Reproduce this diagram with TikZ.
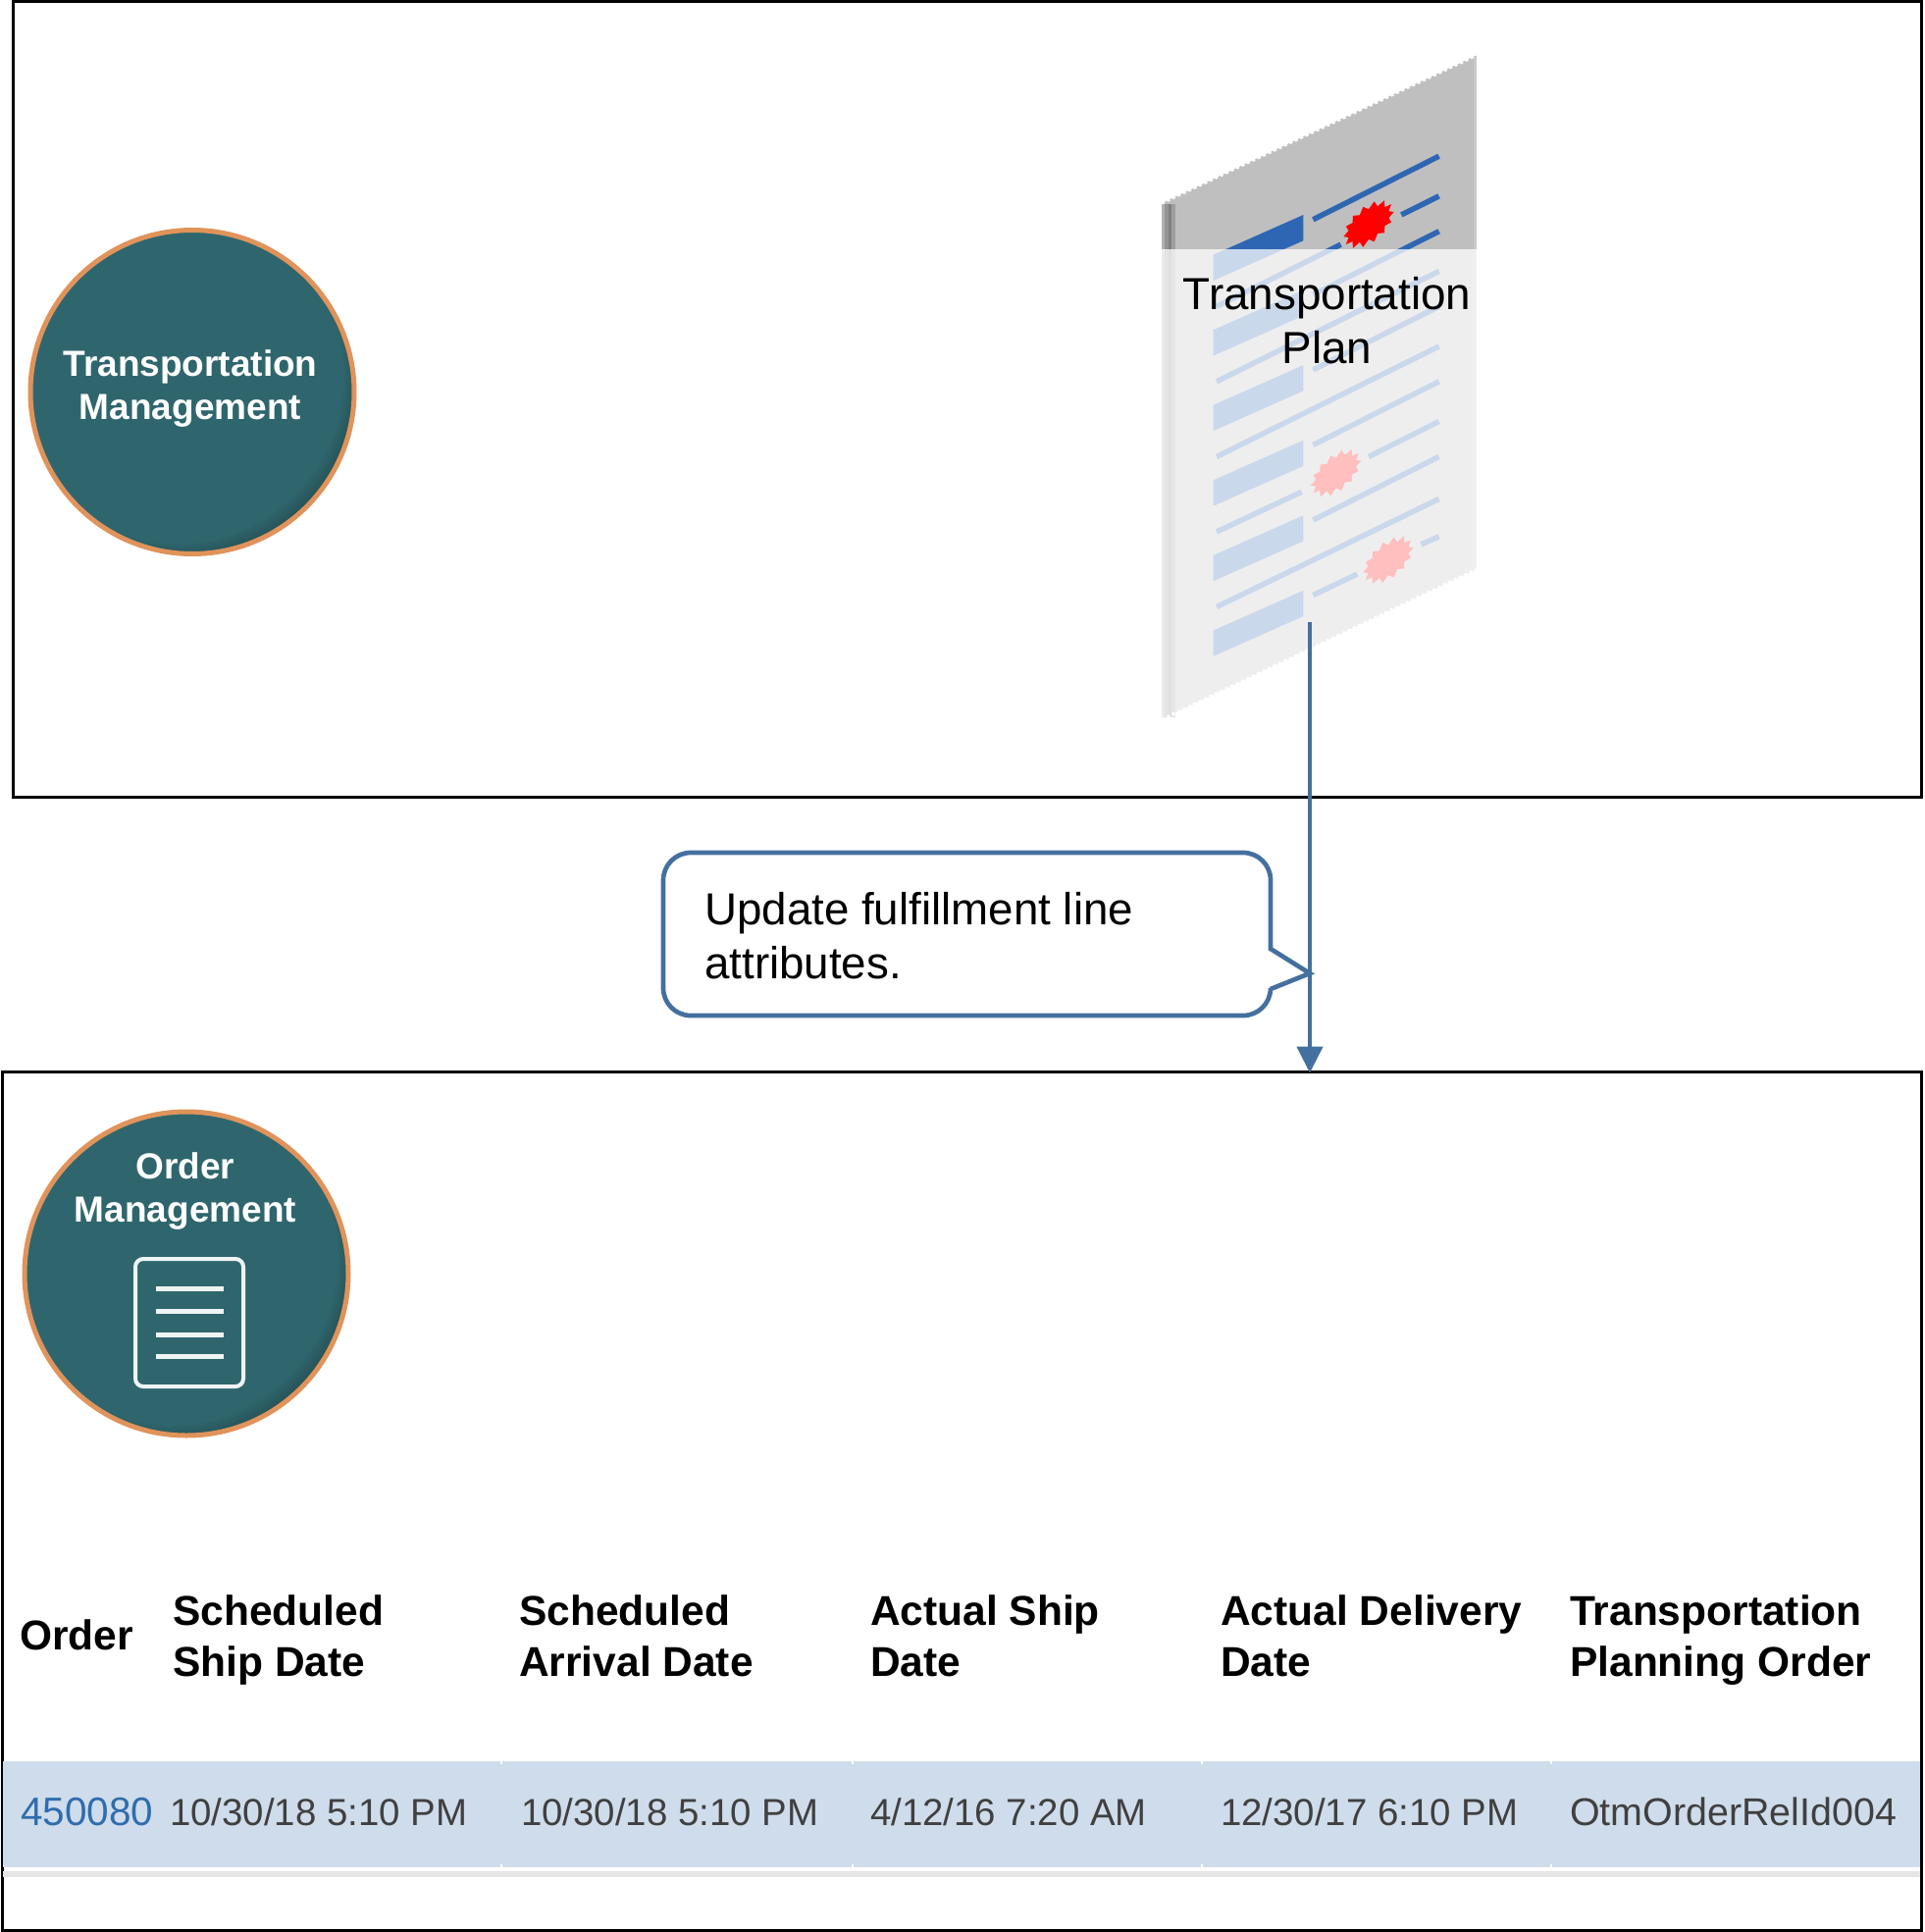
\documentclass[tikz,border=0pt]{standalone}
\usepackage{fontspec}
\setmainfont{Liberation Sans}
\usepackage{tikz}
\usetikzlibrary{calc}
\usetikzlibrary{arrows.meta}
\definecolor{discteal}{HTML}{2F666E}
\definecolor{discdark}{HTML}{17302F}
\definecolor{discrim}{HTML}{E0935A}
\definecolor{calloutblue}{HTML}{44709F}
\definecolor{sheetblue}{HTML}{2F66B4}
\definecolor{rowblue}{HTML}{CFDCEB}
\definecolor{linkblue}{HTML}{2F6DAD}
\pgfdeclareradialshading{discshade}{\pgfpoint{-5bp}{5bp}}{%
  color(0bp)=(discteal); color(25.5bp)=(discteal); color(32bp)=(discdark); color(50bp)=(discdark)}
\newcommand{\sheetburst}[2]{%
  \fill[red, shift={(#1,#2)}] plot[samples=29, domain=0:360]
    ({(70+7*cos(14*\x))*cos(\x)}, {(38+6*cos(14*\x))*sin(\x)-0.34*(70+7*cos(14*\x))*cos(\x)}) -- cycle;
}

\begin{document}
\begin{tikzpicture}[x=1pt, y=-1pt,
    areabox/.style={draw=black, line width=3pt, minimum width=#1, inner sep=0pt},
    disc/.style={circle, draw=discrim, line width=5pt, shading=discshade, minimum size=330pt, inner sep=0pt},
    disclabel/.style={text=white, align=center, inner sep=0pt, font=\bfseries\fontsize{37}{44}\selectfont},
    headcell/.style={anchor=south west, align=left, inner sep=0pt, text depth=9pt, font=\bfseries\fontsize{42.5}{52}\selectfont},
    rowcell/.style={anchor=base west, inner sep=0pt, font=\fontsize{38.4}{46}\selectfont},
    sheetline/.style={sheetblue, line width=5.5pt},
    bluelink/.style={draw=calloutblue, line width=4.7pt}]
  \useasboundingbox (0,0) rectangle (1961,1969);

  \node[areabox=1945pt, minimum height=811pt] (tmbox) at (985.5,407) {};
  \node[areabox=1956pt, minimum height=875pt] (ombox) at (980,1529.5) {};

  % sheet, given in its own small grid
  \begin{scope}[shift={(1100,30)}, x=0.3333pt, y=-0.4785pt]
    \fill[black!25] (252,370) -- (1215,55) -- (1215,1150) -- (252,1470) -- cycle;
    \foreach \stripx/\stripshade in {252/30,262/42,272/50,282/38} {
      \fill[black!\stripshade] (\stripx,372) rectangle (\stripx+11,1466);
    }
    \fill[black!21] (1205,58) rectangle (1215,1150);
    \draw[white, line width=3pt, dash pattern=on 3pt off 3pt] (252,370) -- (1215,55);
    \draw[white, line width=3pt, dash pattern=on 3pt off 3pt] (252,1470) -- (1215,1150);
    \foreach \rowy in {0,160,320,480,640,800} {
      \fill[sheetblue] (410,480+\rowy) -- (685,395+\rowy) -- (685,450+\rowy) -- (410,535+\rowy) -- cycle;
    }
    \foreach \rowy in {0,160,320,480,640} {
      \draw[sheetline] (715,405+\rowy) -- (1100,270+\rowy);
    }
    \draw[sheetline] (715,1205) -- (850,1160);
    \draw[sheetline] (1045,1097) -- (1100,1080);
    \draw[sheetline] (420,590) -- (800,458);
    \draw[sheetline] (985,395) -- (1100,355);
    \draw[sheetline] (420,750) -- (1100,515);
    \draw[sheetline] (420,910) -- (1100,675);
    \draw[sheetline] (420,1070) -- (680,985);
    \draw[sheetline] (885,910) -- (1100,835);
    \draw[sheetline] (420,1230) -- (1100,1000);
    \sheetburst{885}{415}
    \sheetburst{785}{945}
    \sheetburst{945}{1130}
    \fill[white, fill opacity=0.75] (252,468) rectangle (1215,1500);
  \end{scope}

  \node[disc] (tmdisc) at (196,399.5) {};
  \node[disclabel] (tmlabel) at (194,396) {Transportation\\Management};
  \node[disc] (omdisc) at (190,1298) {};
  \node[disclabel] (omlabel) at (189,1214) {Order\\Management};

  % icon inside the lower disc
  \draw[white!92!discteal, line width=4pt, rounded corners=8pt] (138,1283) rectangle (248,1413);
  \foreach \bary in {1313,1336,1360,1382} {
    \draw[white!92!discteal, line width=5pt] (159,\bary) -- (228,\bary);
  }

  \node[align=center, inner sep=0pt, font=\fontsize{45.8}{55}\selectfont] (planlabel) at (1352.5,327) {Transportation\\Plan};

  \coordinate (planfoot) at (1335,634);
  \draw[bluelink, shorten >=-3pt, -{Triangle[length=27pt, width=26pt]}] (planfoot) -- (planfoot |- ombox.north);

  \draw[bluelink, line join=miter] (1295,967) -- (1335,992) -- (1295,1008)
    [rounded corners=28pt] -- (1295,1035) -- (676,1035) -- (676,869) -- (1295,869) [sharp corners] -- cycle;
  \node[align=left, inner sep=0pt, font=\fontsize{45.7}{55}\selectfont, anchor=west] (updnote) at (718,954) {Update fulfillment line\\attributes.};

  % table of the order
  \fill[rowblue] (3,1795) rectangle (1957,1903);
  \fill[black!10] (3,1907) rectangle (1957,1913);
  \foreach \sepx in {511,869,1225,1581} {
    \draw[white, line width=1.5pt] (\sepx,1794) -- (\sepx,1798);
    \draw[white, line width=1.5pt] (\sepx,1900) -- (\sepx,1904);
  }
  \node[headcell] (headorder) at (20,1691) {Order};
  \foreach \colx/\coltext in {176/{Scheduled\\Ship Date},529/{Scheduled\\Arrival Date},887/{Actual Ship\\Date},1244/{Actual Delivery\\Date},1600/{Transportation\\Planning Order}} {
    \node[headcell] (head\colx) at (\colx,1717.5) {\coltext};
  }
  \node[rowcell, text=linkblue, font=\fontsize{40.5}{46}\selectfont] (roworder) at (21,1860) {450080};
  \foreach \colx/\coltext in {173/{10/30/18 5:10 PM},531/{10/30/18 5:10 PM},887/{4/12/16 7:20 AM},1244/{12/30/17 6:10 PM}} {
    \node[rowcell, text=black!75] (row\colx) at (\colx,1860) {\coltext};
  }
  \node[rowcell, text=black!75, font=\fontsize{39.4}{46}\selectfont] (row1600) at (1600,1860) {OtmOrderRelId004};
\end{tikzpicture}
\end{document}
